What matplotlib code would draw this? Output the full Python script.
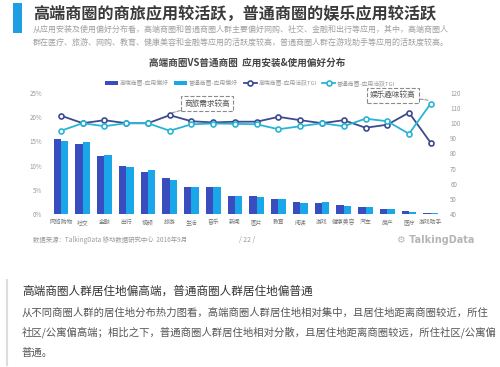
import matplotlib
matplotlib.use('Agg')
import matplotlib.pyplot as plt
from matplotlib.patches import Rectangle
from matplotlib.lines import Line2D
import numpy as np

plt.rcParams['font.family'] = ['Noto Sans CJK SC', 'DejaVu Sans']

# data
categories = ['网络购物', '社交', '金融', '出行', '视频', '旅游', '生活', '音乐', '新闻',
              '图片', '教育', '阅读', '游戏', '健康美容', '汽车', '房产', '医疗', '游戏助手']
high_pref = [15.4, 14.5, 11.9, 10.0, 8.6, 7.4, 5.6, 5.6, 3.7,
             3.7, 3.1, 2.4, 2.2, 1.8, 1.45, 1.1, 0.55, 0.28]
norm_pref = [15.1, 14.9, 12.1, 9.8, 9.0, 7.1, 5.6, 5.5, 3.7,
             3.5, 3.0, 2.35, 2.5, 1.7, 1.45, 1.0, 0.5, 0.25]
high_tgi = [105, 100, 102, 100, 100, 105.3, 101.3, 100.5, 101,
            101, 104.2, 102, 100, 102, 97, 99, 107, 87]
norm_tgi = [95, 100, 98, 100, 100, 95, 99.3, 99.8, 99.6,
            99.3, 96, 98, 100, 98, 103, 101.3, 93, 113]
left_ticks = [0, 5, 10, 15, 20, 25]
right_ticks = [40, 50, 60, 70, 80, 90, 100, 110, 120]

DARK_BAR = '#3a4dbf'
LIGHT_BAR = '#1aa7ea'
DARK_LINE = '#3c4b8e'
LIGHT_LINE = '#29b4d3'
GRAY = '#9a9a9a'

fig = plt.figure(figsize=(5, 3.67), dpi=100)
fig.patch.set_facecolor('white')

# ---- header of the slide ----
fig.add_artist(Rectangle((12.7 / 500, 1 - 33 / 367), 9 / 500, 30 / 367,
                         transform=fig.transFigure, color='#1e9fe3', lw=0))
fig.text(33 / 500, 1 - 14 / 367, '高端商圈的商旅应用较活跃，普通商圈的娱乐应用较活跃',
         fontsize=11.6, fontweight='bold', color='#3a3a3a', va='center', ha='left')
fig.text(33 / 500, 1 - 29 / 367,
         '从应用安装及使用偏好分布看，高端商圈和普通商圈人群主要偏好网购、社交、金融和出行等应用，其中，高端商圈人',
         fontsize=5.75, color='#a0a0a0', va='center', ha='left')
fig.text(33 / 500, 1 - 42 / 367,
         '群在医疗、旅游、网购、教育、健康美容和金融等应用的活跃度较高，普通商圈人群在游戏助手等应用的活跃度较高。',
         fontsize=5.75, color='#a0a0a0', va='center', ha='left')

fig.text(247 / 500, 1 - 63 / 367, '高端商圈VS普通商圈  应用安装&使用偏好分布',
         fontsize=6.9, fontweight='bold', color='#444444', va='center', ha='center')

# ---- chart ----
ax = fig.add_axes([0.0914, 0.417, 0.8006, 0.3297])
ax2 = ax.twinx()
x = np.arange(len(categories))
w = 0.34
ax.bar(x - w / 2, high_pref, w, color=DARK_BAR, label='高端商圈-应用偏好')
ax.bar(x + w / 2, norm_pref, w, color=LIGHT_BAR, label='普通商圈-应用偏好')
ax2.plot(x, high_tgi, color=DARK_LINE, lw=1.3, marker='o', ms=3.6, mfc='white',
         mew=1.2, label='高端商圈-应用活跃TGI')
ax2.plot(x, norm_tgi, color=LIGHT_LINE, lw=1.3, marker='o', ms=3.6, mfc='white',
         mew=1.2, label='普通商圈-应用活跃TGI')

ax.set_xlim(-0.7, len(categories) - 0.3)
ax.set_ylim(0, 25)
ax2.set_ylim(40, 120)
ax.set_xticks(x)
ax.set_xticklabels(categories)
ax.set_yticks(left_ticks)
ax.set_yticklabels([f'{t}%' for t in left_ticks])
ax2.set_yticks(right_ticks)
for a in (ax, ax2):
    for s in a.spines.values():
        s.set_visible(False)
ax.tick_params(axis='x', length=0, pad=4, labelsize=4.2, labelcolor='#777777')
ax.tick_params(axis='y', length=0, pad=2.5, labelsize=4.5, labelcolor=GRAY)
ax2.tick_params(axis='y', length=0, pad=3, labelsize=4.5, labelcolor=GRAY)

h1, l1 = ax.get_legend_handles_labels()
h2, l2 = ax2.get_legend_handles_labels()
fig.legend(h1 + h2, l1 + l2, loc='center', bbox_to_anchor=(0.5, 1 - 83 / 367), ncol=4,
           frameon=False, fontsize=4.2, labelcolor='#999999', handlelength=2.2,
           handleheight=0.5, columnspacing=1.0, handletextpad=0.3)

# callouts
box = dict(boxstyle='square,pad=0.45', fc='white', ec='#8a8a8a', ls='--', lw=0.8)
ax2.annotate('商旅需求较高', xy=(5, 106.5), xycoords='data',
             xytext=(207 / 500, 1 - 103.5 / 367), textcoords='figure fraction',
             fontsize=5.5, color='#555555', ha='center', va='center', bbox=box,
             arrowprops=dict(arrowstyle='-', ls='--', color='#8a8a8a', lw=0.7,
                             shrinkA=0, shrinkB=2))
ax2.annotate('娱乐趣味较高', xy=(17, 115), xycoords='data',
             xytext=(393 / 500, 1 - 95.5 / 367), textcoords='figure fraction',
             fontsize=5.5, color='#555555', ha='center', va='center', bbox=box,
             arrowprops=dict(arrowstyle='-', ls='--', color='#8a8a8a', lw=0.7,
                             shrinkA=0, shrinkB=2))

# footer
fig.text(33 / 500, 1 - 240 / 367, '数据来源：TalkingData 移动数据研究中心  2016年9月',
         fontsize=4.6, color='#999999', va='center', ha='left')
fig.text(247 / 500, 1 - 240 / 367, '/ 22 /', fontsize=5, color='#999999',
         va='center', ha='center')
fig.text(474 / 500, 1 - 240 / 367, '⚙ TalkingData', fontsize=7, fontweight='bold',
         color='#b5b5b5', va='center', ha='right', family=['DejaVu Sans'])

# ---- text block below ----
fig.add_artist(Line2D([7 / 500, 7 / 500], [1 - 280 / 367, 1 - 365 / 367],
                      transform=fig.transFigure, color='#dddddd', lw=1.5))
fig.text(22 / 500, 1 - 291.5 / 367, '高端商圈人群居住地偏高端，普通商圈人群居住地偏普通',
         fontsize=8.4, color='#333333', va='center', ha='left')
body = ['从不同商圈人群的居住地分布热力图看，高端商圈人群居住地相对集中，且居住地距离商圈较近，所住',
        '社区/公寓偏高端；相比之下，普通商圈人群居住地相对分散，且居住地距离商圈较远，所住社区/公寓偏',
        '普通。']
for i, line in enumerate(body):
    fig.text(22 / 500, 1 - (312.5 + i * 20) / 367, line, fontsize=7.45, color='#555555',
             va='center', ha='left')

fig.savefig('out.png', dpi=100)
